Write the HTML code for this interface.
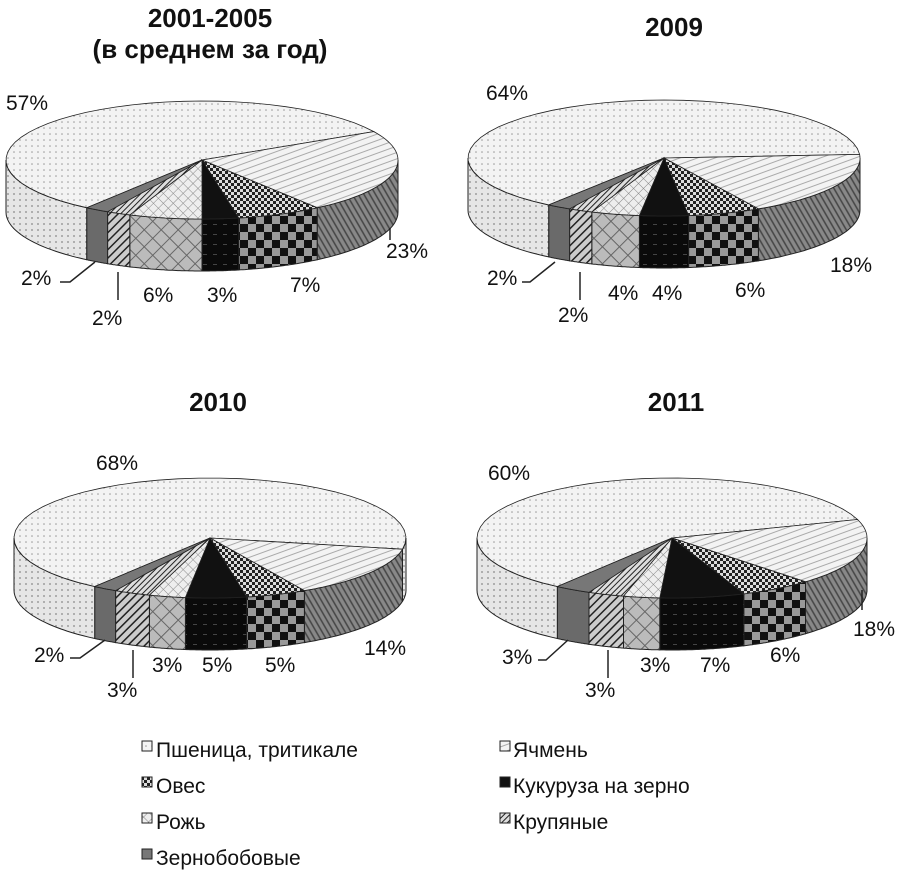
<!DOCTYPE html>
<html><head><meta charset="utf-8"><style>
body{margin:0;background:#fff}
svg{display:block}
text{font-family:"Liberation Sans",Arial,sans-serif;fill:#111}
.t{font-weight:bold;font-size:26px}
.l{font-size:21px}
</style></head><body>
<svg id="s" width="904" height="870" xmlns="http://www.w3.org/2000/svg">
<defs>
<pattern id="pW" width="6" height="6" patternUnits="userSpaceOnUse"><rect width="6" height="6" fill="#f3f3f3"/><circle cx="2" cy="2" r="0.8" fill="#999"/></pattern>
<pattern id="pWs" width="6" height="6" patternUnits="userSpaceOnUse"><rect width="6" height="6" fill="#e6e6e6"/><circle cx="2" cy="2" r="0.9" fill="#888"/></pattern>
<pattern id="pB" width="6" height="6" patternUnits="userSpaceOnUse" patternTransform="rotate(-20)"><rect width="6" height="6" fill="#f3f3f3"/><line x1="0" y1="3" x2="6" y2="3" stroke="#aaa" stroke-width="1"/></pattern>
<pattern id="pBs" width="5" height="5" patternUnits="userSpaceOnUse" patternTransform="rotate(60)"><rect width="5" height="5" fill="#888"/><line x1="0" y1="2" x2="5" y2="2" stroke="#444" stroke-width="1.5"/></pattern>
<pattern id="pO" width="6" height="6" patternUnits="userSpaceOnUse"><rect width="6" height="6" fill="#ddd"/><rect width="3" height="3" fill="#222"/><rect x="3" y="3" width="3" height="3" fill="#222"/></pattern>
<pattern id="pOs" width="16" height="16" patternUnits="userSpaceOnUse"><rect width="16" height="16" fill="#999"/><rect width="8" height="8" fill="#111"/><rect x="8" y="8" width="8" height="8" fill="#111"/></pattern>
<pattern id="pC" width="6" height="6" patternUnits="userSpaceOnUse"><rect width="6" height="6" fill="#111"/></pattern>
<pattern id="pCs" width="10" height="10" patternUnits="userSpaceOnUse"><rect width="10" height="10" fill="#0a0a0a"/><rect x="3" y="4" width="4" height="1" fill="#444"/></pattern>
<pattern id="pR" width="7" height="7" patternUnits="userSpaceOnUse" patternTransform="rotate(45)"><rect width="7" height="7" fill="#eee"/><path d="M0 0H7M0 0V7" stroke="#888" stroke-width="1"/></pattern>
<pattern id="pRs" width="12" height="12" patternUnits="userSpaceOnUse" patternTransform="rotate(45)"><rect width="12" height="12" fill="#bbb"/><path d="M0 0H12M0 0V12" stroke="#666" stroke-width="2"/></pattern>
<pattern id="pK" width="4" height="4" patternUnits="userSpaceOnUse" patternTransform="rotate(45)"><rect width="4" height="4" fill="#ddd"/><line x1="0" y1="0" x2="0" y2="4" stroke="#222" stroke-width="2"/></pattern>
<pattern id="pKs" width="6" height="6" patternUnits="userSpaceOnUse" patternTransform="rotate(45)"><rect width="6" height="6" fill="#ccc"/><line x1="0" y1="0" x2="0" y2="6" stroke="#222" stroke-width="3"/></pattern>
<pattern id="pZ" width="6" height="6" patternUnits="userSpaceOnUse"><rect width="6" height="6" fill="#777"/></pattern>
<pattern id="pZs" width="6" height="6" patternUnits="userSpaceOnUse"><rect width="6" height="6" fill="#6a6a6a"/></pattern>
</defs>
<g id="pies"></g>
<text class="t" x="210" y="27" text-anchor="middle">2001-2005</text>
<text class="t" x="210" y="58" text-anchor="middle">(в среднем за год)</text>
<text class="t" x="674" y="36" text-anchor="middle">2009</text>
<text class="t" x="218" y="411" text-anchor="middle">2010</text>
<text class="t" x="676" y="411" text-anchor="middle">2011</text>

<g>
<text class="l" x="6" y="110">57%</text>
<text class="l" x="386" y="258">23%</text>
<text class="l" x="290" y="292">7%</text>
<text class="l" x="207" y="302">3%</text>
<text class="l" x="143" y="302">6%</text>
<text class="l" x="92" y="325">2%</text>
<text class="l" x="21" y="285">2%</text>

<text class="l" x="486" y="100">64%</text>
<text class="l" x="830" y="272">18%</text>
<text class="l" x="735" y="297">6%</text>
<text class="l" x="652" y="300">4%</text>
<text class="l" x="608" y="300">4%</text>
<text class="l" x="558" y="322">2%</text>
<text class="l" x="487" y="285">2%</text>

<text class="l" x="96" y="470">68%</text>
<text class="l" x="364" y="655">14%</text>
<text class="l" x="265" y="672">5%</text>
<text class="l" x="202" y="672">5%</text>
<text class="l" x="152" y="672">3%</text>
<text class="l" x="107" y="697">3%</text>
<text class="l" x="34" y="662">2%</text>

<text class="l" x="488" y="480">60%</text>
<text class="l" x="853" y="636">18%</text>
<text class="l" x="770" y="662">6%</text>
<text class="l" x="700" y="672">7%</text>
<text class="l" x="640" y="672">3%</text>
<text class="l" x="585" y="697">3%</text>
<text class="l" x="502" y="664">3%</text>
</g>
<g stroke="#222" stroke-width="1.5" fill="none">
<path d="M60 282 H70 L95 262"/><path d="M118 272 V300"/><path d="M390 228 V240"/>
<path d="M522 282 H530 L555 262"/><path d="M580 272 V300"/>
<path d="M70 658 H80 L105 640"/><path d="M133 650 V678"/>
<path d="M538 660 H546 L568 640"/><path d="M608 650 V678"/><path d="M862 590 V610"/>
</g>

<g>
<rect x="142" y="741" width="10" height="10" fill="url(#pW)" stroke="#222"/><text class="l" x="156" y="757">Пшеница, тритикале</text>
<rect x="500" y="741" width="10" height="10" fill="url(#pB)" stroke="#222"/><text class="l" x="513" y="757">Ячмень</text>
<rect x="142" y="777" width="10" height="10" fill="url(#pO)" stroke="#222"/><text class="l" x="156" y="793">Овес</text>
<rect x="500" y="777" width="10" height="10" fill="#111" stroke="#222"/><text class="l" x="513" y="793">Кукуруза на зерно</text>
<rect x="142" y="813" width="10" height="10" fill="url(#pR)" stroke="#222"/><text class="l" x="156" y="829">Рожь</text>
<rect x="500" y="813" width="10" height="10" fill="url(#pK)" stroke="#222"/><text class="l" x="513" y="829">Крупяные</text>
<rect x="142" y="849" width="10" height="10" fill="#777" stroke="#222"/><text class="l" x="156" y="865">Зернобобовые</text>
</g>
</svg>
<script>
var pies=[
 {cx:202,cy:160,rx:196,ry:59,d:52,v:[57,23,7,3,6,2,2]},
 {cx:664,cy:158,rx:196,ry:58,d:52,v:[64,18,6,4,4,2,2]},
 {cx:210,cy:538,rx:196,ry:60,d:52,v:[68,14,5,5,3,3,2]},
 {cx:672,cy:538,rx:195,ry:60,d:52,v:[60,18,6,7,3,3,3]}];
var pat=['W','B','O','C','R','K','Z'];
var g=document.getElementById('pies'),out='';
function P(p,a,dy){a*=Math.PI/180;return (p.cx+p.rx*Math.cos(a)).toFixed(1)+' '+(p.cy+p.ry*Math.sin(a)+(dy||0)).toFixed(1);}
function arc(p,a1,a2,dy){var s='';for(var a=a1;a<=a2+1e-6;a+=(a2-a1)/40)s+=' L'+P(p,a,dy);return s;}
function arcR(p,a1,a2,dy){var s='';for(var a=a2;a>=a1-1e-6;a-=(a2-a1)/40)s+=' L'+P(p,a,dy);return s;}
pies.forEach(function(p){
 var sum=0;p.v.slice(1).forEach(function(x){sum+=x*3.6});
 var a=126-sum-p.v[0]*3.6, segs=[];
 p.v.forEach(function(x,i){segs.push([a,a+x*3.6,pat[i]]);a+=x*3.6;});
 var side='',top='';
 segs.forEach(function(s){
  [0,360,-360].forEach(function(o){
   var a1=Math.max(s[0]+o,0),a2=Math.min(s[1]+o,180);
   if(a2>a1){side+='<path d="M'+P(p,a1)+arc(p,a1,a2)+arcR(p,a1,a2,p.d)+'Z" fill="url(#p'+s[2]+'s)" stroke="#222" stroke-width="1"/>';}
  });
  top+='<path d="M'+p.cx+' '+p.cy+arc(p,s[0],s[1])+'Z" fill="url(#p'+s[2]+')" stroke="#222" stroke-width="0.8"/>';
 });
 out+=side+top;
});
g.innerHTML=out;
</script>
</body></html>
